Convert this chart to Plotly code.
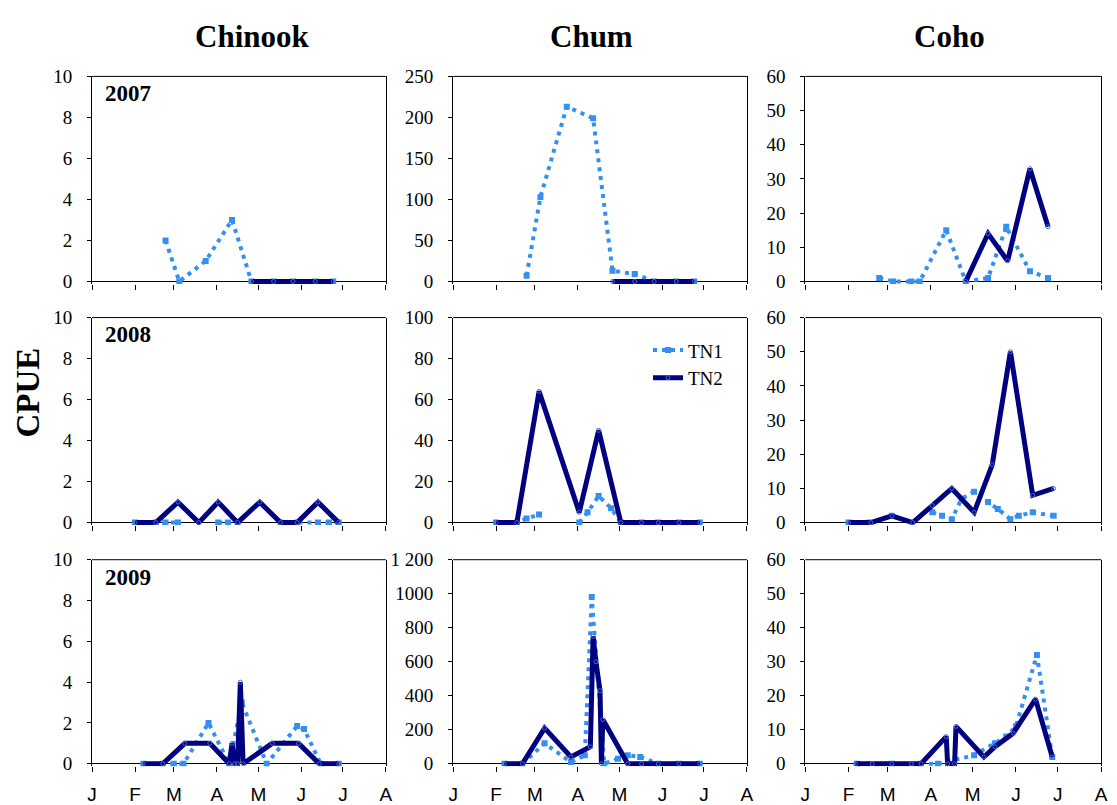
import plotly.graph_objects as go

# ---------------- data (x = day of year, 0 = 1 January) ----------------
month_ticks = [0, 31, 59, 90, 120, 151, 181, 212]
month_labels = ["J", "F", "M", "A", "M", "J", "J", "A"]

species = ["Chinook", "Chum", "Coho"]
years = ["2007", "2008", "2009"]

# 2007
chinook_2007_tn1_day = [53, 63, 82, 101, 115, 131, 145, 161, 174]
chinook_2007_tn1_cpue = [2, 0, 1, 3, 0, 0, 0, 0, 0]
chinook_2007_tn2_day = [115, 131, 145, 161, 174]
chinook_2007_tn2_cpue = [0, 0, 0, 0, 0]

chum_2007_tn1_day = [53, 63, 82, 101, 115, 131, 145, 161, 174]
chum_2007_tn1_cpue = [7, 103, 213, 199, 13, 9, 0, 0, 0]
chum_2007_tn2_day = [115, 131, 145, 161, 174]
chum_2007_tn2_cpue = [0, 0, 0, 0, 0]

coho_2007_tn1_day = [53, 63, 76, 82, 101, 115, 131, 144, 161, 174]
coho_2007_tn1_cpue = [1, 0, 0, 0, 15, 0, 1, 16, 3, 1]
coho_2007_tn2_day = [115, 131, 145, 161, 174]
coho_2007_tn2_cpue = [0, 14, 6, 33, 16]

# 2008
chinook_2008_tn1_day = [31, 46, 53, 62, 77, 91, 98, 105, 121, 136, 148, 163, 171, 178]
chinook_2008_tn1_cpue = [0, 0, 0, 0, None, 0, 0, 0, None, 0, 0, 0, 0, 0]
chinook_2008_tn2_day = [31, 46, 62, 77, 91, 105, 121, 136, 148, 163, 178]
chinook_2008_tn2_cpue = [0, 0, 1, 0, 1, 0, 1, 0, 0, 1, 0]

chum_2008_tn1_day = [31, 46, 53, 62, 77, 91, 97, 105, 114, 121, 136, 148, 163, 178]
chum_2008_tn1_cpue = [0, 0, 2, 4, None, 0, 5, 13, 7, 0, 0, 0, 0, 0]
chum_2008_tn2_day = [31, 46, 62, 91, 105, 121, 136, 148, 163, 178]
chum_2008_tn2_cpue = [0, 0, 64, 5, 45, 0, 0, 0, 0, 0]

coho_2008_tn1_day = [31, 46, 62, 77, 91, 98, 105, 112, 121, 131, 138, 147, 153, 163, 178]
coho_2008_tn1_cpue = [0, 0, 2, None, 3, 2, 1, 7, 9, 6, 4, 1, 2, 3, 2]
coho_2008_tn2_day = [31, 47, 62, 77, 91, 105, 121, 134, 147, 163, 178]
coho_2008_tn2_cpue = [0, 0, 2, 0, 5, 10, 3, 17, 50, 8, 10]

# 2009
chinook_2009_tn1_day = [37, 51, 59, 66, 84, 99, 108, 126, 148, 153, 165, 178]
chinook_2009_tn1_cpue = [0, 0, 0, 0, 2, 0, 3, 0, 1.85, 1.7, 0, 0]
chinook_2009_tn2_day = [37, 51, 67, 85, 99, 101, 103, 105, 107, 109, 130, 149, 164, 178]
chinook_2009_tn2_cpue = [0, 0, 1, 1, 0, 1, 0, 0, 4, 0, 1, 1, 0, 0]

chum_2009_tn1_day = [37, 50, 66, 85, 95, 100, 109, 119, 126, 135, 148, 163, 178]
chum_2009_tn1_cpue = [0, 0, 120, 10, 50, 980, 0, 30, 50, 40, 0, 0, 0]
chum_2009_tn2_day = [37, 50, 66, 85, 99, 101, 103, 106, 107, 108, 126, 136, 148, 163, 178]
chum_2009_tn2_cpue = [0, 0, 210, 40, 100, 750, 600, 430, 0, 260, 0, 0, 0, 0, 0]

coho_2009_tn1_day = [37, 62, 83, 95, 121, 136, 144, 151, 166, 177]
coho_2009_tn1_cpue = [0, 0, 0, 0, 2.5, 6, 8, 11, 32, 2]
coho_2009_tn2_day = [36, 48, 62, 76, 83, 101, 102, 107, 108, 128, 136, 149, 165, 177]
coho_2009_tn2_cpue = [0, 0, 0, 0, 0, 8, 0, 0, 11, 2, 5, 9, 19, 2]

# y-axis maxima and tick steps per panel (row-major)
y_max = [10, 250, 60, 10, 100, 60, 10, 1200, 60]
y_step = [2, 50, 10, 2, 20, 10, 2, 200, 10]

panels = [
    (chinook_2007_tn1_day, chinook_2007_tn1_cpue, chinook_2007_tn2_day, chinook_2007_tn2_cpue),
    (chum_2007_tn1_day, chum_2007_tn1_cpue, chum_2007_tn2_day, chum_2007_tn2_cpue),
    (coho_2007_tn1_day, coho_2007_tn1_cpue, coho_2007_tn2_day, coho_2007_tn2_cpue),
    (chinook_2008_tn1_day, chinook_2008_tn1_cpue, chinook_2008_tn2_day, chinook_2008_tn2_cpue),
    (chum_2008_tn1_day, chum_2008_tn1_cpue, chum_2008_tn2_day, chum_2008_tn2_cpue),
    (coho_2008_tn1_day, coho_2008_tn1_cpue, coho_2008_tn2_day, coho_2008_tn2_cpue),
    (chinook_2009_tn1_day, chinook_2009_tn1_cpue, chinook_2009_tn2_day, chinook_2009_tn2_cpue),
    (chum_2009_tn1_day, chum_2009_tn1_cpue, chum_2009_tn2_day, chum_2009_tn2_cpue),
    (coho_2009_tn1_day, coho_2009_tn1_cpue, coho_2009_tn2_day, coho_2009_tn2_cpue),
]

# ---------------- layout geometry ----------------
W, H = 1117, 805
col_px = [(88, 385), (453, 750), (809, 1108)]
row_px = [(68, 280.5), (315, 527.5), (563, 774.5)]  # top, bottom (zero sits ~2.5px above bottom)

TN1_COLOR = "#3390F0"
TN2_COLOR = "#000080"
SERIF = "Liberation Serif"
SANS = "Liberation Sans"

fig = go.Figure()
layout = dict(
    width=W, height=H,
    margin=dict(l=0, r=0, t=0, b=0),
    paper_bgcolor="white", plot_bgcolor="white",
    showlegend=True,
    shapes=[], annotations=[],
)

for k, (d1, v1, d2, v2) in enumerate(panels):
    r, c = divmod(k, 3)
    idx = k + 1
    xa = "x" if idx == 1 else f"x{idx}"
    ya = "y" if idx == 1 else f"y{idx}"
    show = (k == 4)
    fig.add_trace(go.Scatter(
        x=d1, y=v1, xaxis=xa, yaxis=ya, mode="lines+markers", name="TN1",
        line=dict(color=TN1_COLOR, width=4, dash="4px,5px"),
        marker=dict(symbol="square", size=6, color=TN1_COLOR),
        connectgaps=False, showlegend=show, legendrank=1,
    ))
    fig.add_trace(go.Scatter(
        x=d2, y=v2, xaxis=xa, yaxis=ya, mode="lines+markers", name="TN2",
        line=dict(color=TN2_COLOR, width=5),
        marker=dict(symbol="circle-open", size=4, color="#4a6ad0", line=dict(width=1)),
        showlegend=show, legendrank=2,
    ))

    x0, x1 = col_px[c]
    top, bot = row_px[r]
    ymax = y_max[k]
    zero_px = bot - 2.5
    pad = ymax * 2.5 / (zero_px - top)
    yt = list(range(0, ymax + 1, y_step[k]))
    ytext = [str(v) for v in yt]
    if ymax == 1200:
        ytext = ["1 200" if v == 1200 else str(v) for v in yt]

    xkey = "xaxis" if idx == 1 else f"xaxis{idx}"
    ykey = "yaxis" if idx == 1 else f"yaxis{idx}"
    layout[xkey] = dict(
        domain=[x0 / W, x1 / W], anchor=ya, range=[0, 212],
        tickmode="array", tickvals=month_ticks, ticktext=month_labels,
        showticklabels=(r == 2), ticks="outside", ticklen=5, tickcolor="black",
        showline=False, showgrid=False, zeroline=False,
        tickfont=dict(family=SANS, size=19, color="black"),
        ticklabelstandoff=6, fixedrange=True,
    )
    layout[ykey] = dict(
        domain=[1 - bot / H, 1 - top / H], anchor=xa, range=[-pad, ymax],
        tickmode="array", tickvals=yt, ticktext=ytext,
        ticks="outside", ticklen=4, tickcolor="black",
        showline=True, linecolor="black", linewidth=1, mirror=True,
        showgrid=False, zeroline=True, zerolinecolor="black", zerolinewidth=1,
        tickfont=dict(family=SERIF, size=19, color="black"),
        ticklabelstandoff=11, fixedrange=True,
    )
    layout["shapes"].append(dict(
        type="line", xref=f"{xa} domain", yref=f"{ya} domain",
        x0=0, x1=1, y0=1, y1=1, line=dict(color="black", width=1), layer="above",
    ))

# column titles
title_pos = [(250, 27), (593, 27), (955, 27)]
for name, (px, py) in zip(species, title_pos):
    layout["annotations"].append(dict(
        text=f"<b>{name}</b>", x=px / W, y=1 - py / H, xref="paper", yref="paper",
        showarrow=False, xanchor="center", yanchor="middle",
        font=dict(family=SERIF, size=31, color="black"),
    ))

# year labels
year_pos = [(124, 86), (124, 332), (124, 581)]
for yr, (px, py) in zip(years, year_pos):
    layout["annotations"].append(dict(
        text=f"<b>{yr}</b>", x=px / W, y=1 - py / H, xref="paper", yref="paper",
        showarrow=False, xanchor="center", yanchor="middle",
        font=dict(family=SERIF, size=23, color="black"),
    ))

# CPUE
layout["annotations"].append(dict(
    text="<b>CPUE</b>", x=23 / W, y=1 - 392 / H, xref="paper", yref="paper",
    showarrow=False, textangle=-90, xanchor="center", yanchor="middle",
    font=dict(family=SERIF, size=33, color="black"),
))

layout["legend"] = dict(
    x=650 / W, y=1 - 329 / H, xanchor="left", yanchor="top",
    bgcolor="rgba(0,0,0,0)", borderwidth=0,
    font=dict(family=SERIF, size=19, color="black"),
    tracegroupgap=0,
)

fig.update_layout(**layout)
fig.write_html("out.html")
